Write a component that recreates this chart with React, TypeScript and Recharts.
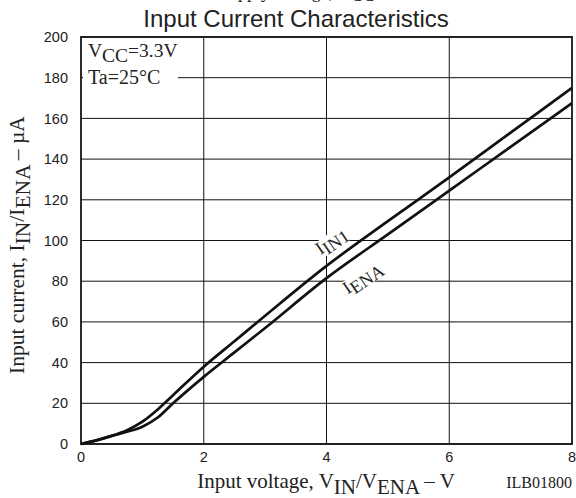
import { CartesianGrid, Line, LineChart, ReferenceArea, XAxis, YAxis } from 'recharts'

const voltage = [0, 0.25, 0.5, 0.75, 1, 1.25, 1.5, 2, 2.5, 3, 4, 5, 6, 7, 8]
const iin1 = [0, 1.8, 4, 6.8, 11, 17, 24, 38, 50.5, 63, 87.5, 109.5, 131, 153, 175]
const iena = [0, 1.8, 4, 6, 8.5, 13, 20, 33, 45, 57, 81.5, 103, 124.5, 146, 167.5]

const xTicks = [0, 2, 4, 6, 8]
const yTicks = [0, 20, 40, 60, 80, 100, 120, 140, 160, 180, 200]

const chartData = voltage.map((v, i) => ({ v, iin1: iin1[i], iena: iena[i] }))

const serif = '"Liberation Serif", "Times New Roman", serif'
const sans = '"Liberation Sans", Arial, sans-serif'

// text pieces: [text, isSubscript]
type Part = [string, boolean]

function Rich({ parts, drop = 6 }: { parts: Part[]; drop?: number }) {
  let level = 0
  return (
    <>
      {parts.map(([t, sub], i) => {
        const target = sub ? drop : 0
        const dy = target - level
        level = target
        return (
          <tspan key={i} dy={dy}>
            {t}
          </tspan>
        )
      })}
    </>
  )
}

export default function App() {
  return (
    <div style={{ position: 'absolute', left: 0, top: 0, width: 576, height: 498, background: '#fff' }}>
      <LineChart
        width={576}
        height={498}
        data={chartData}
        margin={{ top: 37, right: 4, bottom: 0, left: 0 }}
      >
        <CartesianGrid stroke="#111" strokeWidth={1} horizontalValues={yTicks} verticalValues={xTicks} />
        <XAxis
          dataKey="v"
          type="number"
          domain={[0, 8]}
          ticks={xTicks}
          height={54}
          tickLine={false}
          axisLine={false}
          tickSize={4}
          tickMargin={4}
          tick={{ fill: '#222', fontSize: 14.5, fontFamily: sans }}
        />
        <YAxis
          type="number"
          domain={[0, 200]}
          ticks={yTicks}
          width={81}
          tickLine={false}
          axisLine={false}
          tickSize={6}
          tickMargin={7}
          tick={{ fill: '#222', fontSize: 14.5, fontFamily: sans }}
        />
        <ReferenceArea x1={0} x2={8} y1={0} y2={200} fill="none" stroke="#222" strokeWidth={1.8} />
        <Line type="monotone" dataKey="iin1" stroke="#111" strokeWidth={2.7} dot={false} isAnimationActive={false} />
        <Line type="monotone" dataKey="iena" stroke="#111" strokeWidth={2.7} dot={false} isAnimationActive={false} />
      </LineChart>

      <svg width={576} height={498} style={{ position: 'absolute', left: 0, top: 0, pointerEvents: 'none' }}>
        {/* heading left over from the page above, mostly cut off */}
        <text x={219} y={-2} fontFamily={serif} fontSize={18} fill="#222">
          <Rich parts={[['Supply Voltage, V', false], ['CC', true]]} drop={3} />
        </text>
        <text x={296} y={27} textAnchor="middle" fontFamily={sans} fontSize={24} fill="#222">
          Input Current Characteristics
        </text>

        {/* conditions box */}
        <rect x={83} y={70} width={95} height={16} fill="#fff" />
        <text x={88} y={57} fontFamily={serif} fontSize={19.5} fill="#222">
          <Rich parts={[['V', false], ['CC', true], ['=3.3V', false]]} drop={5} />
        </text>
        <text x={88} y={84} fontFamily={serif} fontSize={20} fill="#222">
          Ta=25°C
        </text>

        {/* curve labels */}
        <g transform="translate(333,243) rotate(-34)">
          <rect x={-23} y={-10} width={46} height={17} fill="#fff" />
          <text x={0} y={3} textAnchor="middle" fontFamily={serif} fontSize={18} fill="#222">
            <Rich parts={[['I', false], ['IN1', true]]} drop={4} />
          </text>
        </g>
        <g transform="translate(364,280) rotate(-34)">
          <rect x={-28} y={-10} width={56} height={17} fill="#fff" />
          <text x={0} y={3} textAnchor="middle" fontFamily={serif} fontSize={18} fill="#222">
            <Rich parts={[['I', false], ['ENA', true]]} drop={4} />
          </text>
        </g>

        {/* axis titles */}
        <text
          transform="translate(24,245) rotate(-90)"
          textAnchor="middle"
          fontFamily={serif}
          fontSize={21.5}
          fill="#222"
        >
          <Rich
            parts={[
              ['Input current, I', false],
              ['IN', true],
              ['/I', false],
              ['ENA', true],
              [' – µA', false],
            ]}
          />
        </text>
        <text x={326} y={488} textAnchor="middle" fontFamily={serif} fontSize={21} fill="#222">
          <Rich
            parts={[
              ['Input voltage, V', false],
              ['IN', true],
              ['/V', false],
              ['ENA', true],
              [' – V', false],
            ]}
          />
        </text>
        <text x={572} y={488} textAnchor="end" fontFamily={serif} fontSize={16} fill="#222">
          ILB01800
        </text>
      </svg>
    </div>
  )
}
